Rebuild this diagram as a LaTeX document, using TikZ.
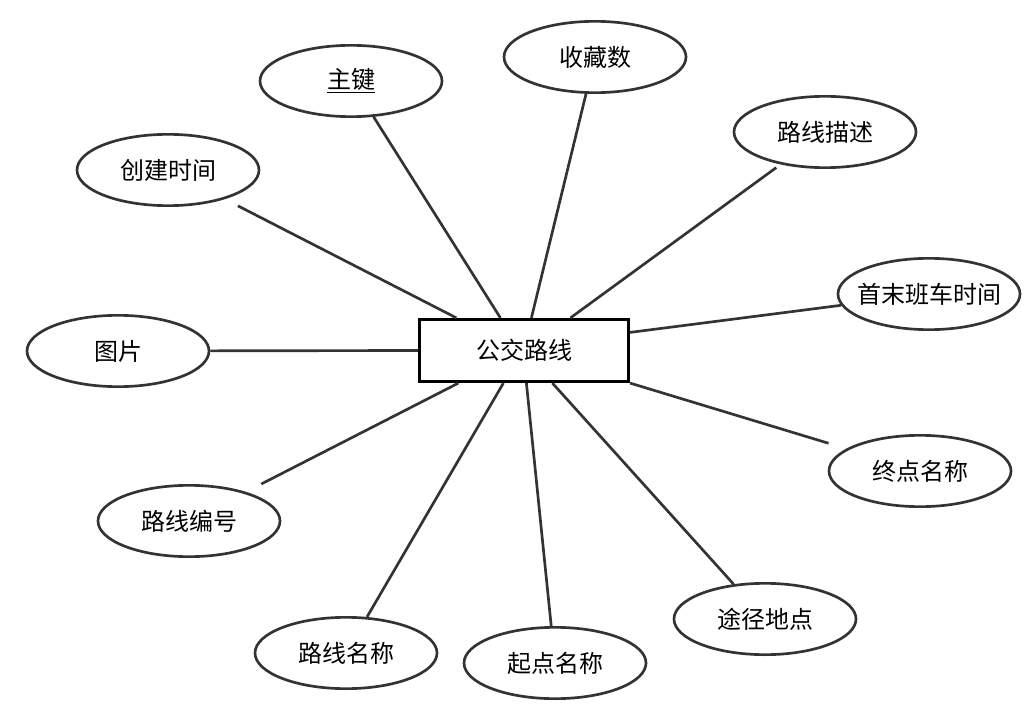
\documentclass[tikz,border=0pt]{standalone}
\usepackage{fontspec}
\setmainfont{Noto Sans CJK SC}
\usetikzlibrary{shapes.geometric,calc}
\definecolor{edgegray}{HTML}{333333}
\tikzset{
  attr/.style={ellipse, draw=edgegray, line width=2pt, minimum width=136.5pt, minimum height=53.5pt, inner sep=0pt, font=\fontsize{18pt}{20pt}\selectfont, text=black, fill=white},
  entity/.style={rectangle, draw=black, line width=2.4pt, minimum width=156.75pt, minimum height=46.5pt, inner sep=0pt, font=\fontsize{18pt}{20pt}\selectfont, fill=white},
  link/.style={draw=edgegray, line width=2pt}
}
\begin{document}
\begin{tikzpicture}[x=0.75pt, y=-0.75pt]
\useasboundingbox (0,0) rectangle (1031,720);
\node[entity] (r) at (524,350.5) {公交路线};
\node[attr] (zj) at (351,81) {\underline{主键}};
\node[attr] (sc) at (595,57) {收藏数};
\node[attr] (ms) at (825,132) {路线描述};
\node[attr] (cj) at (168,170) {创建时间};
\node[attr] (sm) at (929,294) {\makebox[0pt]{首末班车时间}};
\node[attr] (tp) at (118,351) {图片};
\node[attr] (zd) at (920,471) {终点名称};
\node[attr] (tj) at (765,619) {途径地点};
\node[attr] (qd) at (555,663) {起点名称};
\node[attr] (mc) at (346,653) {路线名称};
\node[attr] (bh) at (189,521) {路线编号};
\draw[link] ($(r.north west)+(82.5,0)$) -- (zj);
\draw[link] ($(r.north west)+(113.5,0)$) -- (sc);
\draw[link, shorten >=11pt] ($(r.north west)+(38.5,0)$) -- (cj);
\draw[link, shorten >=4pt] ($(r.north west)+(152.5,0)$) -- (ms);
\draw[link] ($(r.north east)+(0,14.5)$) -- (sm);
\draw[link] (r.west) -- (tp);
\draw[link, shorten >=14pt] (r.south east) -- (zd);
\draw[link] ($(r.south west)+(134.5,0)$) -- (tj);
\draw[link] ($(r.south west)+(108.5,0)$) -- (qd);
\draw[link] ($(r.south west)+(85.5,0)$) -- (mc);
\draw[link, shorten >=13pt] ($(r.south west)+(40.5,0)$) -- (bh);
\end{tikzpicture}
\end{document}
